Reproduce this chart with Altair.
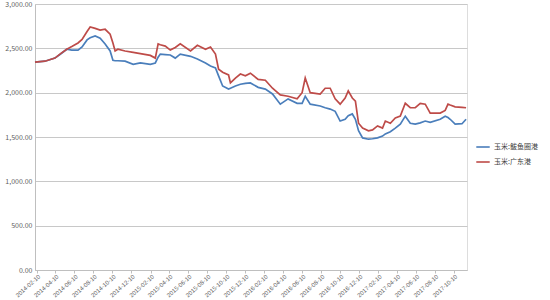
import altair as alt
import pandas as pd

dates = [
    "2014-02-04", "2014-03-08", "2014-04-09", "2014-04-25", "2014-05-17", "2014-06-02",
    "2014-06-22", "2014-07-05", "2014-07-21", "2014-07-31", "2014-08-16", "2014-09-01",
    "2014-09-17", "2014-10-03", "2014-10-12", "2014-10-19", "2014-10-28", "2014-11-20",
    "2014-12-16", "2015-01-08", "2015-02-09", "2015-02-25", "2015-03-06", "2015-03-13",
    "2015-03-29", "2015-04-14", "2015-04-30", "2015-05-16", "2015-06-18", "2015-07-10",
    "2015-08-05", "2015-08-21", "2015-09-06", "2015-09-16", "2015-09-29", "2015-10-18",
    "2015-10-24", "2015-11-09", "2015-11-25", "2015-12-11", "2015-12-27", "2016-01-21",
    "2016-02-13", "2016-03-07", "2016-04-01", "2016-04-26", "2016-05-25", "2016-06-10",
    "2016-06-20", "2016-07-06", "2016-08-07", "2016-08-23", "2016-09-08", "2016-09-24",
    "2016-10-10", "2016-10-26", "2016-11-05", "2016-11-18", "2016-11-28", "2016-12-08",
    "2016-12-21", "2017-01-09", "2017-01-22", "2017-02-07", "2017-02-23", "2017-03-04",
    "2017-03-20", "2017-04-05", "2017-04-21", "2017-05-07", "2017-05-23", "2017-06-08",
    "2017-06-24", "2017-07-10", "2017-07-26", "2017-08-27", "2017-09-12", "2017-09-21",
    "2017-09-28", "2017-10-14", "2017-11-05", "2017-11-18",
]

guangdong = [
    2345, 2355, 2390, 2435, 2490, 2520, 2560, 2600, 2690, 2740, 2725, 2705,
    2715, 2660, 2560, 2470, 2490, 2470, 2455, 2440, 2420, 2390, 2550, 2540,
    2525, 2480, 2510, 2550, 2470, 2535, 2490, 2515, 2435, 2265, 2230, 2200,
    2110, 2165, 2210, 2190, 2220, 2150, 2140, 2050, 1975, 1960, 1930, 2000,
    2165, 2000, 1985, 2050, 2050, 1930, 1870, 1940, 2020, 1940, 1905, 1655,
    1600, 1570, 1580, 1625, 1600, 1680, 1655, 1715, 1735, 1880, 1830, 1830,
    1880, 1870, 1770, 1770, 1800, 1870, 1860, 1840, 1835, 1830,
]

bayuquan = [
    2345, 2355, 2390, 2430, 2490, 2480, 2480, 2515, 2595, 2620, 2640, 2615,
    2550, 2470, 2365, 2360, 2360, 2355, 2320, 2335, 2320, 2335, 2400, 2435,
    2430, 2425, 2390, 2435, 2410, 2380, 2335, 2300, 2280, 2190, 2075, 2040,
    2050, 2075, 2095, 2105, 2110, 2060, 2040, 1985, 1870, 1930, 1880, 1880,
    1960, 1870, 1850, 1830, 1815, 1790, 1680, 1700, 1740, 1760, 1700, 1570,
    1490, 1475, 1480, 1490, 1510, 1535, 1560, 1600, 1645, 1735, 1655, 1645,
    1660, 1680, 1665, 1700, 1735, 1720, 1700, 1645, 1650, 1700,
]

series_names = ["玉米:鲅鱼圈港", "玉米:广东港"]
series_colors = ["#4A7EBB", "#BE4B48"]

x_ticks = [
    "2014-02-10", "2014-04-10", "2014-06-10", "2014-08-10", "2014-10-10", "2014-12-10",
    "2015-02-10", "2015-04-10", "2015-06-10", "2015-08-10", "2015-10-10", "2015-12-10",
    "2016-02-10", "2016-04-10", "2016-06-10", "2016-08-10", "2016-10-10", "2016-12-10",
    "2017-02-10", "2017-04-10", "2017-06-10", "2017-08-10", "2017-10-10",
]
y_ticks = [0, 500, 1000, 1500, 2000, 2500, 3000]

rows = []
for d, v in zip(dates, bayuquan):
    rows.append({"date": d, "value": v, "series": series_names[0]})
for d, v in zip(dates, guangdong):
    rows.append({"date": d, "value": v, "series": series_names[1]})
df = pd.DataFrame(rows)

font = "Noto Sans CJK SC"

chart = alt.Chart(df).mark_line(strokeWidth=1.7).encode(
    x=alt.X(
        "date:T",
        scale=alt.Scale(domain=["2014-02-04", "2017-11-21"]),
        axis=alt.Axis(
            values=x_ticks,
            format="%Y-%m-%d",
            labelAngle=-42,
            labelFontSize=6,
            labelColor="#606060",
            labelFont="Liberation Sans",
            grid=False,
            domain=True,
            domainColor="#bfbfbf",
            ticks=True,
            tickSize=3,
            tickColor="#bfbfbf",
            labelPadding=0,
            labelOverlap=False,
            title=None,
        ),
    ),
    y=alt.Y(
        "value:Q",
        scale=alt.Scale(domain=[0, 3000], nice=False),
        axis=alt.Axis(
            values=y_ticks,
            format=",.2f",
            labelFontSize=7,
            labelColor="#606060",
            labelFont=font,
            grid=True,
            gridColor="#c8c8c8",
            gridWidth=1,
            domain=True,
            domainColor="#bfbfbf",
            ticks=False,
            labelPadding=3,
            title=None,
        ),
    ),
    color=alt.Color(
        "series:N",
        scale=alt.Scale(domain=series_names, range=series_colors),
        sort=series_names,
        legend=alt.Legend(
            orient="none",
            legendX=440,
            legendY=135,
            title=None,
            symbolType="stroke",
            symbolSize=180,
            symbolStrokeWidth=1.6,
            labelFontSize=7,
            labelFont=font,
            labelColor="#404040",
            rowPadding=3,
            labelOffset=3,
        ),
    ),
    order=alt.Order("date:T"),
).properties(
    width=432,
    height=266,
    padding={"left": 35, "top": 4, "right": 83, "bottom": 30},
    autosize=alt.AutoSizeParams(type="none"),
).configure_view(stroke=None).configure(background="white")

chart.save("out.html", embed_options={"renderer": "svg", "actions": False})
